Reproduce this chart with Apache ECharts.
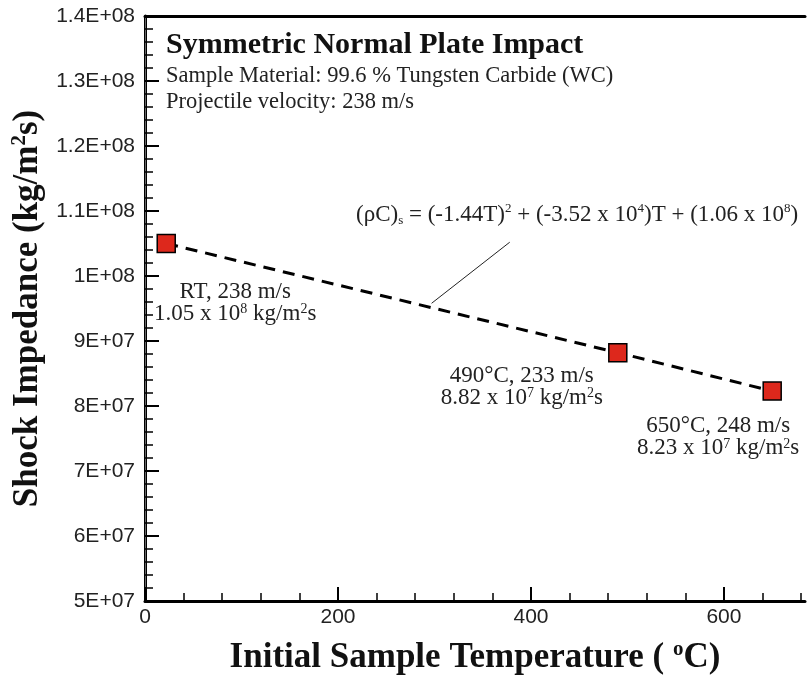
<!DOCTYPE html>
<html>
<head>
<meta charset="utf-8">
<script src="https://cdn.jsdelivr.net/npm/echarts@6/dist/echarts.min.js"></script>
<style>
  html, body { margin: 0; padding: 0; background: #fff; }
  #chart { width: 808px; height: 681px; }
</style>
</head>
<body>
<div id="chart"></div>
<script>
// measured points: temperature (°C) vs shock impedance (kg/m^2 s)
var temps = [22, 490, 650];
var impedance = [1.05e8, 8.82e7, 8.23e7];
var pointLabels = [
  "RT, 238 m/s\n1.05 x 10{sup|8} kg/m{sup|2}s",
  "490°C, 233 m/s\n8.82 x 10{sup|7} kg/m{sup|2}s",
  "650°C, 248 m/s\n8.23 x 10{sup|7} kg/m{sup|2}s"
];
var labelOffsets = [[69, 59], [-96, 34], [-54, 46]];

var xMajorTicks = [0, 200, 400, 600];
var xMinorTicks = [40, 80, 120, 160, 240, 280, 320, 360, 440, 480, 520, 560, 640, 680];
var yTickValues = [5e7, 6e7, 7e7, 8e7, 9e7, 1e8, 1.1e8, 1.2e8, 1.3e8, 1.4e8];
var yTickLabels = ["5E+07", "6E+07", "7E+07", "8E+07", "9E+07", "1E+08", "1.1E+08", "1.2E+08", "1.3E+08", "1.4E+08"];

// leader line of the fit equation, in data coords
var leader = [[297, 9.58e7], [378, 1.052e8]];

var serif = "Liberation Serif";
var supStyle = { fontFamily: serif, fontSize: 14, lineHeight: 14, verticalAlign: "top", color: "#222" };
var nameRich = {
  b: { fontFamily: serif, fontWeight: "bold", fontSize: 35, lineHeight: 38, color: "#111" },
  s: { fontFamily: serif, fontWeight: "bold", fontSize: 21, lineHeight: 21, verticalAlign: "top", color: "#111" }
};

var chart = echarts.init(document.getElementById("chart"));

chart.setOption({
  animation: false,
  title: {
    left: 161,
    top: 25,
    text: "Symmetric Normal Plate Impact",
    textStyle: { fontFamily: serif, fontWeight: "bold", fontSize: 30, color: "#111" },
    subtext: "Sample Material: 99.6 % Tungsten Carbide (WC)\nProjectile velocity: 238 m/s",
    subtextStyle: { fontFamily: serif, fontSize: 22.5, lineHeight: 26, color: "#222" },
    itemGap: 3
  },
  grid: { left: 145, right: 3, top: 16, bottom: 80, outerBoundsMode: "none" },
  xAxis: [
    {
      type: "value",
      min: 0,
      max: 684,
      position: "bottom",
      name: "{b|Initial Sample Temperature ( }{s|o}{b|C)}",
      nameLocation: "middle",
      nameGap: 38,
      nameTextStyle: { rich: nameRich },
      axisLine: { lineStyle: { color: "#000", width: 3 } },
      axisTick: { customValues: xMajorTicks, inside: true, length: 14, lineStyle: { color: "#000", width: 2 } },
      axisLabel: { customValues: xMajorTicks, fontFamily: "Liberation Sans", fontSize: 21, color: "#222", margin: 6 },
      splitLine: { show: false }
    },
    {
      type: "value",
      min: 0,
      max: 684,
      position: "bottom",
      axisLine: { show: false },
      axisTick: { customValues: xMinorTicks, inside: true, length: 8, lineStyle: { color: "#000", width: 1.5 } },
      axisLabel: { show: false },
      splitLine: { show: false }
    },
    {
      type: "value",
      min: 0,
      max: 684,
      position: "top",
      axisLine: { lineStyle: { color: "#000", width: 3 } },
      axisTick: { show: false },
      axisLabel: { show: false },
      splitLine: { show: false }
    }
  ],
  yAxis: [
    {
      type: "value",
      min: 5e7,
      max: 1.4e8,
      interval: 1e7,
      position: "left",
      name: "{b|Shock Impedance (kg/m}{s|2}{b|s)}",
      nameLocation: "middle",
      nameRotate: 90,
      nameGap: 98,
      nameTextStyle: { rich: nameRich },
      axisLine: { lineStyle: { color: "#000", width: 3 } },
      axisTick: { inside: true, length: 14, lineStyle: { color: "#000", width: 2 } },
      minorTick: { show: true, splitNumber: 5, length: 8, lineStyle: { color: "#000", width: 1.5 } },
      axisLabel: {
        fontFamily: "Liberation Sans",
        fontSize: 21,
        color: "#222",
        margin: 10,
        formatter: function (v) {
          for (var i = 0; i < yTickValues.length; i++) {
            if (Math.abs(yTickValues[i] - v) < 1) return yTickLabels[i];
          }
          return "";
        }
      },
      splitLine: { show: false }
    },
    {
      type: "value",
      min: 5e7,
      max: 1.4e8,
      position: "right",
      axisLine: { lineStyle: { color: "#666", width: 1 } },
      axisTick: { show: false },
      axisLabel: { show: false },
      splitLine: { show: false }
    }
  ],
  graphic: [
    {
      type: "text",
      left: 356,
      top: 202,
      style: {
        text: "{n|(ρC)}{sub|s}{n| = (-1.44T)}{sup|2}{n| + (-3.52 x 10}{sup|4}{n|)T + (1.06 x 10}{sup|8}{n|)}",
        rich: {
          n: { fontFamily: serif, fontSize: 23, lineHeight: 25, fill: "#222" },
          sup: { fontFamily: serif, fontSize: 13, lineHeight: 13, verticalAlign: "top", fill: "#222" },
          sub: { fontFamily: serif, fontSize: 13, lineHeight: 13, verticalAlign: "bottom", fill: "#222" }
        }
      }
    }
  ],
  series: [
    {
      type: "line",
      data: temps.map(function (t, i) { return [t, impedance[i]]; }),
      symbol: "none",
      lineStyle: { color: "#000", width: 3, type: [12, 8] },
      z: 2,
      markLine: {
        silent: true,
        symbol: "none",
        label: { show: false },
        lineStyle: { color: "#222", width: 1, type: "solid" },
        data: [[{ coord: leader[0] }, { coord: leader[1] }]]
      }
    },
    {
      type: "scatter",
      data: temps.map(function (t, i) {
        return {
          value: [t, impedance[i]],
          label: { formatter: pointLabels[i], offset: labelOffsets[i] }
        };
      }),
      symbol: "rect",
      symbolSize: 18,
      itemStyle: { color: "#dd281c", borderColor: "#000", borderWidth: 1.5, opacity: 1 },
      z: 3,
      label: {
        show: true,
        position: "inside",
        align: "center",
        fontFamily: serif,
        fontSize: 23,
        lineHeight: 22,
        color: "#222",
        rich: { sup: supStyle }
      }
    }
  ]
});
</script>
</body>
</html>
